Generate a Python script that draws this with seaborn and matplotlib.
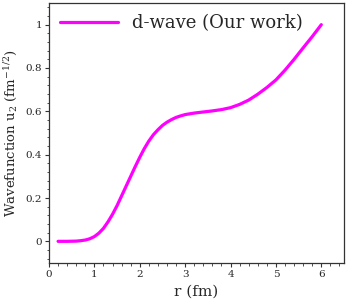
import numpy as np
import pandas as pd
import matplotlib
matplotlib.use('Agg')
import matplotlib.pyplot as plt
import seaborn as sns
from matplotlib.ticker import MultipleLocator

# values
r_fm = [0.2, 0.4, 0.6, 0.7, 0.8, 0.9, 1.0, 1.1, 1.2, 1.3, 1.4, 1.5, 1.6, 1.7,
        1.8, 1.9, 2.0, 2.1, 2.2, 2.3, 2.4, 2.5, 2.6, 2.7, 2.8, 2.9, 3.0, 3.2,
        3.4, 3.6, 3.8, 4.0, 4.2, 4.4, 4.6, 4.8, 5.0, 5.2, 5.4, 5.6, 5.8, 6.0]
u2 = [0.0, 0.0, 0.001, 0.003, 0.006, 0.012, 0.022, 0.038, 0.06, 0.09, 0.125,
      0.165, 0.21, 0.255, 0.30, 0.345, 0.388, 0.428, 0.463, 0.492, 0.515,
      0.535, 0.55, 0.562, 0.572, 0.579, 0.585, 0.592, 0.597, 0.602, 0.608,
      0.617, 0.632, 0.652, 0.679, 0.71, 0.745, 0.79, 0.84, 0.893, 0.945, 1.0]
series_label = 'd-wave (Our work)'

df = pd.DataFrame({'r': r_fm, 'u2': u2})

sns.set_style('white')
plt.rcParams['font.family'] = ['DejaVu Serif']
plt.rcParams['mathtext.fontset'] = 'dejavuserif'

fig = plt.figure(figsize=(3.48, 3.03), dpi=100)
ax = fig.add_axes([49 / 348, 1 - 263 / 303, 295 / 348, 260 / 303])

sns.lineplot(data=df, x='r', y='u2', color='#ff00ff', linewidth=2.3,
             label=series_label, ax=ax)

ax.set_xlim(0, 6.5)
ax.set_ylim(-0.1, 1.1)
ax.set_xticks([0, 1, 2, 3, 4, 5, 6])
ax.set_xticklabels(['0', '1', '2', '3', '4', '5', '6'])
ax.set_yticks([0, 0.2, 0.4, 0.6, 0.8, 1.0])
ax.set_yticklabels(['0', '0.2', '0.4', '0.6', '0.8', '1'])
ax.xaxis.set_minor_locator(MultipleLocator(0.2))
ax.yaxis.set_minor_locator(MultipleLocator(0.04))
ax.tick_params(which='major', direction='out', length=3, width=0.8,
               labelsize=7.5, color='#333333', pad=2, bottom=True, left=True)
ax.tick_params(which='minor', direction='out', length=1.8, width=0.6,
               color='#333333', bottom=True, left=True)
for s in ax.spines.values():
    s.set_color('#333333')
    s.set_linewidth(0.9)

ax.set_xlabel('r (fm)', fontsize=11, labelpad=4)
ax.set_ylabel('Wavefunction u$_2$ (fm$^{-1/2}$)', fontsize=9.5, labelpad=4)

ax.legend(loc='upper left', frameon=False, fontsize=13, handlelength=3.2,
          handletextpad=0.8, borderaxespad=0.2)

fig.savefig('out.png', dpi=100)
